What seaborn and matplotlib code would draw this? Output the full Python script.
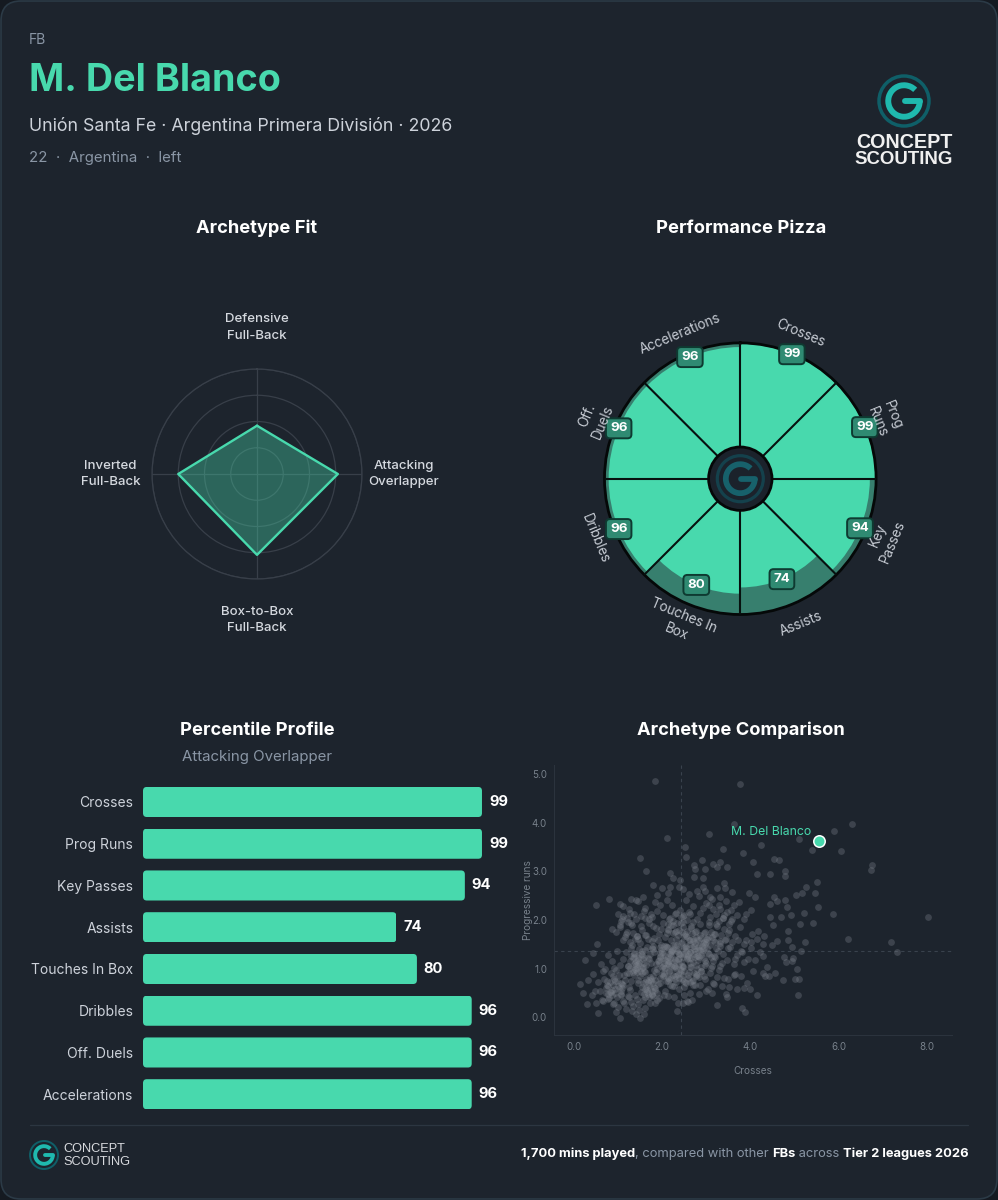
import numpy as np
import pandas as pd
import matplotlib
matplotlib.use("Agg")
import matplotlib.pyplot as plt
import seaborn as sns
from matplotlib.patches import Arc, Circle, FancyBboxPatch

# ---- data ----
metrics = ["Crosses", "Prog Runs", "Key Passes", "Assists", "Touches In Box", "Dribbles", "Off. Duels", "Accelerations"]
percentiles = [99, 99, 94, 74, 80, 96, 96, 96]
pizza_labels = ["Crosses", "Prog\nRuns", "Key\nPasses", "Assists", "Touches In\nBox", "Dribbles", "Off.\nDuels", "Accelerations"]

archetypes = ["Defensive\nFull-Back", "Attacking\nOverlapper", "Box-to-Box\nFull-Back", "Inverted\nFull-Back"]
archetype_fit = [46, 77, 77, 75]

player_x = [5.56]
player_y = [3.63]
median_x = 2.43
median_y = 1.36

peers_x = [
    1.84, 3.76, 3.63, 6.30, 5.90, 2.10, 3.06, 5.09, 4.23, 2.52,
    3.37, 5.39, 6.05, 3.84, 2.53, 1.50, 4.53, 4.65, 4.05, 6.76,
    6.73, 1.64, 4.14, 4.45, 4.79, 4.79, 5.51, 5.27, 5.47, 5.18,
    5.04, 3.96, 4.10, 4.53, 4.79, 5.53, 5.88, 5.22, 4.92, 8.03,
    5.41, 5.13, 6.21, 7.18, 7.32, 5.24, 5.15, 4.95, 4.85, 4.86,
    4.60, 4.50, 4.52, 4.69, 4.44, 4.82, 4.60, 4.45, 4.77, 4.96,
    4.94, 4.81, 5.05, 5.01, 5.09, 5.08, 4.73, 4.56, 4.38, 4.41,
    4.29, 4.33, 4.16, 4.00, 3.85, 3.70, 3.80, 3.88, 3.25, 2.33,
    1.59, 1.50, 1.04, 0.54, 0.95, 0.30, 0.20, 0.13, 0.31, 0.26,
    0.44, 0.53, 0.50, 0.79, 1.04, 2.90, 2.72, 3.14, 3.30, 3.46,
    3.24, 2.97, 2.74, 2.18, 2.25, 2.41, 2.72, 2.93, 1.78, 1.99,
    2.18, 2.37, 2.46, 2.92, 3.39, 3.24, 3.42, 2.78, 2.96, 1.88,
    1.56, 1.41, 1.84, 3.08, 3.31, 2.60, 2.84, 2.12, 1.30, 3.58,
    1.00, 1.12, 1.25, 1.45, 1.60, 1.75, 1.95, 2.10, 2.22, 2.40,
    2.55, 2.70, 2.85, 3.00, 3.12, 3.30, 3.45, 3.62, 3.75, 3.90,
    1.08, 1.20, 1.36, 1.52, 1.70, 1.88, 2.02, 2.18, 2.32, 2.48,
    2.62, 2.78, 2.92, 3.08, 3.22, 3.38, 3.55, 3.70, 3.85, 4.02,
    0.85, 0.95, 1.05, 1.18, 1.30, 1.42, 1.55, 1.68, 1.80, 1.92,
    2.02, 2.14, 2.25, 2.36, 2.46, 2.56, 2.66, 2.76, 2.86, 2.96,
    3.06, 3.18, 3.28, 3.40, 3.52, 3.64, 3.76, 3.90, 4.04, 4.18,
    1.10, 1.26, 1.38, 1.50, 1.62, 1.76, 1.90, 2.06, 2.20, 2.32,
    2.44, 2.54, 2.64, 2.74, 2.84, 2.94, 3.04, 3.16, 3.30, 3.44,
    3.58, 3.72, 3.86, 4.02, 4.15, 4.30, 4.28, 1.98, 2.10, 2.28,
    0.62, 0.78, 0.90, 0.98, 1.12, 1.22, 1.30, 1.38, 1.46, 1.56,
    1.62, 1.70, 1.78, 1.86, 1.94, 2.02, 2.10, 2.18, 2.26, 2.34,
    2.42, 2.50, 2.58, 2.66, 2.74, 2.82, 2.90, 2.98, 3.06, 3.14,
    3.22, 3.30, 3.38, 3.46, 3.54, 3.62, 3.70, 3.78, 3.86, 3.94,
    4.02, 4.10, 4.22, 4.28, 0.70, 0.86, 1.04, 1.18, 1.34, 1.42,
    1.52, 1.66, 1.74, 1.82, 1.92, 1.98, 2.06, 2.14, 2.22, 2.30,
    2.38, 2.46, 2.54, 2.62, 2.70, 2.78, 2.86, 2.94, 3.02, 3.10,
    1.28, 1.36, 1.40, 1.48, 1.58, 1.64, 1.72, 1.80, 1.88, 1.96,
    2.04, 2.12, 2.20, 2.28, 2.36, 2.44, 2.52, 2.60, 2.68, 2.76,
    2.84, 2.92, 3.00, 3.08, 3.18, 3.26, 3.36, 3.50, 3.66, 3.80,
    1.32, 1.44, 1.54, 1.68, 1.76, 1.90, 2.00, 2.16, 2.24, 2.40,
    2.48, 2.56, 2.64, 2.72, 2.80, 2.88, 2.96, 3.04, 3.12, 3.20,
    0.42, 0.55, 0.66, 0.76, 0.88, 0.96, 1.06, 1.14, 1.24, 1.34,
    1.44, 1.54, 1.64, 1.72, 1.82, 1.90, 2.00, 2.08, 2.16, 2.26,
    2.34, 2.42, 2.52, 2.60, 2.70, 2.78, 2.88, 2.98, 3.08, 3.18,
    3.28, 3.40, 3.52, 3.66, 3.78, 3.92, 4.06, 0.60, 0.74, 0.84,
    0.92, 1.02, 1.10, 1.20, 1.30, 1.40, 1.50, 1.60, 1.68, 1.78,
    1.86, 1.96, 2.04, 2.12, 2.22, 2.30, 2.40, 2.50, 2.58, 2.68,
    2.76, 2.86, 2.94, 3.04, 3.14, 3.24, 3.36, 3.48, 3.62, 0.48,
    0.68, 0.82, 0.94, 1.08, 1.16, 1.26, 1.36, 1.46, 1.58, 1.66,
    1.74, 1.84, 1.94, 2.06, 2.18, 2.28, 2.38, 2.48, 2.62, 2.74,
    0.40, 0.50, 0.64, 0.72, 0.80, 0.88, 0.98, 1.06, 1.14, 1.22,
    1.30, 1.38, 1.46, 1.56, 1.62, 1.70, 1.76, 1.84, 1.92, 2.04,
    2.14, 2.26, 2.36, 2.50, 2.58, 2.68, 2.84, 3.00, 3.12, 3.44,
    3.46, 0.76, 0.86, 1.00, 1.12, 1.24, 1.34, 1.42, 1.48, 1.62,
    1.72, 1.80, 1.88, 2.46, 2.56, 0.66, 0.90, 1.18, 1.32, 1.40,
]
peers_y = [
    4.87, 4.79, 3.98, 3.98, 3.84, 3.69, 3.77, 3.66, 3.55, 3.51,
    3.46, 3.44, 3.43, 3.39, 3.30, 3.28, 3.26, 3.24, 3.19, 3.13,
    3.02, 3.00, 2.95, 2.95, 3.00, 2.91, 2.78, 2.68, 2.56, 2.56,
    2.52, 2.55, 2.48, 2.47, 2.41, 2.26, 2.13, 2.14, 2.10, 2.06,
    1.93, 1.91, 1.61, 1.54, 1.35, 1.54, 1.36, 1.45, 1.77, 1.60,
    1.56, 1.49, 1.90, 2.07, 2.07, 2.27, 2.40, 2.33, 1.25, 1.23,
    1.15, 1.13, 0.99, 0.79, 0.78, 0.45, 0.77, 0.92, 1.04, 0.84,
    0.91, 0.84, 0.46, 0.59, 0.60, 0.59, 0.20, 0.10, 0.25, 0.12,
    0.07, -0.01, -0.01, 0.09, 0.10, 0.28, 0.49, 0.68, 0.77, 1.17,
    1.32, 1.50, 2.30, 2.43, 2.33, 3.24, 3.13, 3.16, 3.20, 3.09,
    3.09, 3.05, 3.05, 2.96, 2.86, 2.83, 2.88, 2.86, 2.72, 2.65,
    2.69, 2.69, 2.63, 2.69, 2.76, 2.65, 2.65, 2.59, 2.59, 2.52,
    2.48, 2.41, 2.38, 2.48, 2.48, 2.54, 2.50, 2.56, 2.44, 2.58,
    2.12, 2.28, 2.22, 2.40, 2.25, 2.12, 2.30, 2.42, 2.30, 2.20,
    2.42, 2.28, 2.15, 2.35, 2.44, 2.22, 2.40, 2.30, 2.38, 2.12,
    2.02, 2.05, 2.12, 2.08, 2.02, 2.18, 2.10, 2.04, 2.14, 2.08,
    2.12, 2.02, 2.24, 2.06, 2.12, 2.05, 2.20, 2.10, 2.02, 2.20,
    1.82, 1.75, 1.90, 1.72, 1.95, 1.68, 1.80, 1.62, 1.88, 1.72,
    1.95, 1.80, 1.90, 1.70, 1.96, 1.78, 1.88, 1.65, 1.92, 1.75,
    1.90, 1.72, 1.98, 1.82, 1.92, 1.68, 1.85, 1.60, 1.72, 1.78,
    1.60, 1.55, 1.62, 1.52, 1.70, 1.56, 1.60, 1.66, 1.58, 1.62,
    1.55, 1.68, 1.58, 1.52, 1.60, 1.55, 1.65, 1.58, 1.52, 1.62,
    1.55, 1.60, 1.50, 1.55, 1.62, 1.68, 1.50, 1.82, 1.74, 1.76,
    1.10, 1.28, 1.02, 1.36, 1.20, 1.05, 1.42, 1.12, 1.28, 1.04,
    1.38, 1.20, 1.46, 1.10, 1.32, 1.06, 1.44, 1.22, 1.02, 1.36,
    1.14, 1.42, 1.26, 1.04, 1.36, 1.18, 1.46, 1.08, 1.30, 1.16,
    1.42, 1.06, 1.30, 1.18, 1.44, 1.10, 1.28, 1.36, 1.14, 1.20,
    1.42, 1.18, 1.34, 1.26, 1.00, 1.15, 1.08, 1.34, 1.22, 1.02,
    1.30, 1.44, 1.12, 1.34, 1.18, 1.48, 1.26, 1.12, 1.38, 1.18,
    1.30, 1.06, 1.46, 1.34, 1.14, 1.26, 1.38, 1.22, 1.42, 1.02,
    1.02, 1.32, 1.16, 1.40, 1.24, 1.08, 1.30, 1.40, 1.00, 1.24,
    1.46, 1.10, 1.34, 1.48, 1.20, 1.06, 1.30, 1.22, 1.44, 1.08,
    1.24, 1.38, 1.12, 1.48, 1.26, 1.36, 1.12, 1.42, 1.20, 1.34,
    1.48, 1.10, 1.36, 1.22, 1.42, 1.16, 1.34, 1.16, 1.48, 1.30,
    1.04, 1.22, 1.12, 1.30, 1.44, 1.04, 1.16, 1.32, 1.06, 1.24,
    0.90, 0.72, 0.96, 0.64, 0.84, 0.98, 0.70, 0.88, 0.62, 0.94,
    0.76, 0.92, 0.60, 0.82, 0.98, 0.68, 0.90, 0.74, 0.96, 0.64,
    0.86, 0.98, 0.72, 0.94, 0.66, 0.88, 0.96, 0.78, 0.92, 0.68,
    0.98, 0.80, 0.62, 0.90, 0.84, 0.70, 0.96, 0.55, 0.66, 0.92,
    0.58, 0.86, 0.66, 0.92, 0.74, 0.98, 0.84, 0.94, 0.72, 0.84,
    0.94, 0.70, 0.88, 0.80, 0.64, 0.78, 0.92, 0.62, 0.80, 0.74,
    0.90, 0.66, 0.84, 0.58, 0.70, 0.82, 0.64, 0.78, 0.86, 0.54,
    0.78, 0.52, 0.74, 0.60, 0.76, 0.56, 0.86, 0.70, 0.96, 0.52,
    0.78, 0.60, 0.80, 0.54, 0.66, 0.84, 0.58, 0.74, 0.50, 0.66,
    0.45, 0.30, 0.36, 0.50, 0.40, 0.28, 0.42, 0.48, 0.30, 0.44,
    0.32, 0.46, 0.28, 0.36, 0.20, 0.42, 0.48, 0.30, 0.40, 0.46,
    0.44, 0.42, 0.30, 0.46, 0.32, 0.36, 0.48, 0.55, 0.50, 0.48,
    0.42, 0.38, 0.46, 0.22, 0.34, 0.42, 0.24, 0.38, 0.16, 0.42,
    0.30, 0.44, 0.36, 0.30, 0.34, 0.34, 0.30, 0.18, 0.12, 0.06,
]
# the packed middle of the cloud
dense_x = [
    1.22, 1.27, 1.33, 1.37, 1.41, 1.46, 1.50, 1.55, 1.59, 1.25,
    1.30, 1.35, 1.39, 1.44, 1.48, 1.53, 1.57, 1.35, 1.42, 1.50,
    1.92, 1.97, 2.01, 2.05, 2.09, 2.13, 2.17, 2.21, 2.25, 2.29,
    2.33, 2.37, 1.94, 1.99, 2.03, 2.07, 2.11, 2.15, 2.19, 2.23,
    2.27, 2.31, 2.35, 2.39, 1.96, 2.04, 2.12, 2.20, 2.28, 2.36,
    2.42, 2.46, 2.50, 2.53, 2.57, 2.60, 2.64, 2.67, 2.71, 2.74,
    2.78, 2.81, 2.85, 2.88, 2.92, 2.95, 2.99, 2.44, 2.48, 2.52,
    2.56, 2.59, 2.63, 2.66, 2.70, 2.73, 2.77, 2.80, 2.84, 2.87,
    2.91, 2.94, 2.98, 2.55, 2.69, 2.12, 2.16, 2.21, 2.25, 2.30,
    2.34, 2.39, 2.43, 2.47, 2.52, 2.56, 2.61, 2.65, 2.70, 2.74,
    2.14, 2.24, 2.32, 2.42, 2.50, 1.52, 1.56, 1.60, 1.63, 1.67,
    1.70, 1.74, 1.77, 1.81, 1.84, 1.88, 1.54, 1.58, 1.62, 1.66,
    1.69, 1.73, 1.76, 1.80, 1.83, 0.72, 0.77, 0.81, 0.85, 0.89,
    0.94, 0.98, 1.02, 1.06, 1.09, 0.75, 0.83, 0.91, 0.99, 1.07,
    3.02, 3.07, 3.11, 3.16, 3.20, 3.25, 3.29, 3.34, 3.38, 3.43,
    3.47, 3.52, 3.56, 3.05, 3.13, 3.22, 3.31, 3.40, 3.49, 3.58,
    1.04, 1.10, 1.16, 1.22, 1.28, 1.34, 1.40, 1.46, 1.52, 1.58,
    1.64, 1.70, 1.76, 1.82, 1.87, 1.07, 1.19, 1.31, 1.43, 1.61,
    2.02, 2.07, 2.12, 2.16, 2.21, 2.26, 2.31, 2.35, 2.40, 2.45,
    2.50, 2.54, 2.59, 2.64, 2.69, 2.73, 2.78, 2.83, 2.87, 2.05,
    2.15, 2.25, 2.38, 2.48, 2.62, 2.76, 3.00, 3.10, 3.20, 3.30,
]
dense_y = [
    1.05, 1.16, 0.98, 1.24, 1.08, 1.18, 0.96, 1.28, 1.12, 0.92,
    1.26, 1.10, 1.00, 1.22, 1.14, 1.02, 1.20, 1.30, 0.94, 1.06,
    1.12, 1.38, 1.22, 1.02, 1.46, 1.16, 1.30, 1.06, 1.40, 1.20,
    1.48, 1.10, 1.26, 1.04, 1.34, 1.18, 1.44, 1.08, 1.28, 1.36,
    1.14, 1.02, 1.32, 1.22, 1.44, 1.12, 1.24, 1.36, 1.06, 1.40,
    1.52, 1.30, 1.68, 1.42, 1.20, 1.60, 1.34, 1.74, 1.46, 1.24,
    1.58, 1.38, 1.70, 1.28, 1.52, 1.42, 1.62, 1.76, 1.24, 1.44,
    1.66, 1.30, 1.50, 1.22, 1.62, 1.40, 1.78, 1.26, 1.46, 1.64,
    1.34, 1.74, 1.50, 1.36, 1.56, 1.82, 2.02, 1.90, 1.74, 2.12,
    1.94, 1.80, 2.06, 1.86, 1.72, 2.00, 2.16, 1.84, 1.96, 1.76,
    1.92, 1.98, 1.78, 1.94, 2.10, 0.52, 0.70, 0.58, 0.78, 0.48,
    0.66, 0.74, 0.54, 0.62, 0.76, 0.50, 0.62, 0.48, 0.72, 0.56,
    0.76, 0.60, 0.46, 0.70, 0.56, 0.60, 0.48, 0.72, 0.56, 0.66,
    0.50, 0.74, 0.60, 0.46, 0.68, 0.74, 0.52, 0.78, 0.64, 0.54,
    1.62, 1.96, 1.76, 2.22, 1.54, 1.88, 2.32, 1.70, 2.04, 1.58,
    2.16, 1.80, 1.98, 2.30, 1.66, 1.92, 1.56, 2.10, 1.74, 2.02,
    1.86, 2.08, 1.66, 1.96, 2.14, 1.74, 2.02, 1.62, 1.88, 2.18,
    1.70, 1.94, 2.06, 1.64, 1.84, 1.98, 1.76, 1.90, 1.68, 2.04,
    0.84, 1.02, 0.74, 0.94, 0.80, 1.06, 0.72, 0.90, 1.00, 0.78,
    0.96, 0.70, 0.86, 1.04, 0.76, 0.92, 1.00, 0.82, 0.96, 0.92,
    0.78, 0.88, 0.80, 0.86, 0.72, 0.84, 1.54, 1.24, 1.72, 1.46,
]

# ---- colours ----
BG = "#1d242d"
EDGE = "#2b3a46"
GREEN = "#48d9ad"
DARK_GREEN = "#377f6e"
TEXT = "#cdd2da"
MUTED = "#8a96a5"
TICK = "#78818b"
FAINT = "#2b333d"
W, H = 998, 1200

sns.set_theme(style="dark", rc={"axes.facecolor": "none", "figure.facecolor": "#151a21"})
plt.rcParams["font.family"] = ["Inter", "DejaVu Sans"]

fig = plt.figure(figsize=(W / 100, H / 100), dpi=100)


def px_axes(left, top, right, bottom, **kw):
    return fig.add_axes([left / W, 1 - bottom / H, (right - left) / W, (bottom - top) / H], **kw)


def draw_logo(ax, cx, cy, r, ring, mark, ring_lw=0.1, mark_lw=0.17):
    ax.add_patch(Circle((cx, cy), r, fill=False, ec=ring, lw=r * ring_lw))
    ax.add_patch(Arc((cx, cy), r * 1.26, r * 1.26, theta1=0, theta2=315, color=mark, lw=r * mark_lw))
    ax.plot([cx + r * 0.63, cx + r * 0.05], [cy, cy], color=mark, lw=r * mark_lw, solid_capstyle="round")


# ---- background layer in pixel coordinates ----
back = px_axes(0, 0, W, H, zorder=0)
back.set_xlim(0, W)
back.set_ylim(H, 0)
back.axis("off")
back.add_patch(FancyBboxPatch((1, 1), W - 2, H - 2, boxstyle="round,pad=0,rounding_size=20", fc=BG, ec=EDGE, lw=1.2))

back.text(29, 40, "FB", color=MUTED, fontsize=10, va="center")
back.text(29, 81, "M. Del Blanco", color=GREEN, fontsize=27.2, fontweight="bold", va="center")
back.text(29, 126, "Unión Santa Fe · Argentina Primera División · 2026", color=TEXT, fontsize=12.8, va="center")
back.text(29, 158, "22  ·  Argentina  ·  left", color=MUTED, fontsize=10.8, va="center")

for label, x, y in [("Archetype Fit", 257, 233), ("Performance Pizza", 741, 233),
                    ("Percentile Profile", 257, 735), ("Archetype Comparison", 741, 735)]:
    back.text(x, y, label, color="white", fontsize=13.2, fontweight="bold", ha="center", va="baseline")
back.text(257, 757, "Attacking Overlapper", color=MUTED, fontsize=10.8, ha="center", va="center")

draw_logo(back, 904, 101, 25, "#0f5f68", "#1fb9ae")
for word, y, size in [("CONCEPT", 142, 14.2), ("SCOUTING", 160, 13.4)]:
    back.text(904, y, word, color="#f0f0f0", fontsize=size, fontweight="bold", family="Liberation Sans", ha="center", va="center")

back.plot([30, 968], [1124.5, 1124.5], color="#2c3641", lw=0.9)
draw_logo(back, 44, 1155, 14, "#0f5f68", "#1fb9ae", ring_lw=0.1, mark_lw=0.2)
for word, y in [("CONCEPT", 1149), ("SCOUTING", 1162)]:
    back.text(63, y, word, color="#d8dade", fontsize=9.2, family="Liberation Sans", va="center")

footer = [("1,700 mins played", "bold", "white"), (", compared with other ", "normal", MUTED), ("FBs", "bold", "white"),
          (" across ", "normal", MUTED), ("Tier 2 leagues 2026", "bold", "white")]
renderer = fig.canvas.get_renderer()
FOOT_SIZE = 9.3


def text_width(piece, weight):
    # bars at both ends so edge spaces get counted
    probe = back.text(0, 0, "|" + piece + "|", fontsize=FOOT_SIZE, fontweight=weight)
    empty = back.text(0, 0, "||", fontsize=FOOT_SIZE, fontweight=weight)
    width = probe.get_window_extent(renderer).width - empty.get_window_extent(renderer).width
    probe.remove()
    empty.remove()
    return width


x_right = 969
for piece, weight, colour in reversed(footer):
    x_right -= text_width(piece, weight)
    back.text(x_right, 1157, piece, color=colour, fontsize=FOOT_SIZE, fontweight=weight, ha="left", va="baseline")

# ---- radar ----
radar = px_axes(257 - 105, 474 - 105, 257 + 105, 474 + 105, projection="polar")
radar.set_theta_zero_location("N")
radar.set_theta_direction(-1)
radar_theta = np.deg2rad([0, 90, 180, 270, 360])
radar_df = pd.DataFrame({"theta": radar_theta, "fit": archetype_fit + archetype_fit[:1]})
radar.fill(radar_df["theta"], radar_df["fit"], color=GREEN, alpha=0.36, lw=0, zorder=2)
sns.lineplot(data=radar_df, x="theta", y="fit", sort=False, estimator=None, color=GREEN, lw=1.7, ax=radar, zorder=3)
radar.set_ylim(0, 100)
radar.set_yticks([25, 50, 75, 100])
radar.set_xticks(radar_theta[:4])
radar.set_xticklabels([])
radar.set_yticklabels([])
radar.set_xlabel("")
radar.set_ylabel("")
radar.grid(True, color="#383f49", lw=0.9)
radar.spines["polar"].set_color("#383f49")
radar.spines["polar"].set_linewidth(0.9)
for theta, name in zip(radar_theta[:4], archetypes):
    radar.text(theta, 139.5, name, color="#d5d9df", fontsize=9.5, fontweight="medium", ha="center", va="center", clip_on=False, linespacing=1.45)

# ---- pizza ----
pizza_r = 135.8
hole = 31.7
unit = (pizza_r - hole) / 100
pizza = px_axes(740.3 - pizza_r, 478.7 - pizza_r, 740.3 + pizza_r, 478.7 + pizza_r, projection="polar")
pizza.set_theta_zero_location("N")
pizza.set_theta_direction(-1)
pizza.set_rorigin(-hole / unit)
pizza.set_ylim(0, 100)
slice_width = 2 * np.pi / len(metrics)
slice_theta = (np.arange(len(metrics)) + 0.5) * slice_width
pizza.bar(slice_theta, [100] * len(metrics), width=slice_width, color=DARK_GREEN, lw=0)
pizza.bar(slice_theta, percentiles, width=slice_width, color=GREEN, lw=0)
for edge in slice_theta - slice_width / 2:
    pizza.plot([edge, edge], [0, 100], color="#07110f", lw=1.5, zorder=3)
pizza.set_xticks([])
pizza.set_yticks([])
pizza.grid(False)
pizza.spines["polar"].set_color("#050808")
pizza.spines["polar"].set_linewidth(2)
pizza.spines["inner"].set_visible(False)

for theta, value, label in zip(slice_theta, percentiles, pizza_labels):
    deg = np.rad2deg(theta)
    rot = -deg if deg < 90 or deg > 270 else 180 - deg
    pizza.text(theta, value, str(value), color="white", fontsize=9.6, fontweight="bold", ha="center", va="center", zorder=6,
               clip_on=False, bbox=dict(boxstyle="round,pad=0.3,rounding_size=0.3", fc="#2f8a72", ec="#0e3a31", lw=1.4))
    pizza.text(theta, (157 - hole) / unit, label, color="#c6cbd3", fontsize=9.7, rotation=rot, rotation_mode="anchor",
               ha="center", va="center", clip_on=False, zorder=7, linespacing=1.25)

front = px_axes(0, 0, W, H, zorder=5)
front.set_xlim(0, W)
front.set_ylim(H, 0)
front.axis("off")
front.add_patch(Circle((740.3, 478.7), hole, fc="#1b222b", ec="#050808", lw=2))
draw_logo(front, 740.3, 478.7, 23, "#14414c", "#17616b", ring_lw=0.1, mark_lw=0.18)

# ---- percentile bars ----
bars = px_axes(143, 781.1, 500, 1115.1)
bar_df = pd.DataFrame({"metric": metrics, "percentile": percentiles})
sns.barplot(data=bar_df, y="metric", x="percentile", orient="h", color=GREEN, saturation=1, width=0.72, linewidth=0, ax=bars)
bars.set_xlim(0, 357 / 3.424)
bars.set_ylim(7.5, -0.5)
bars.set_xlabel("")
bars.set_ylabel("")
bars.set_xticks([])
bars.tick_params(axis="y", length=0, pad=7, labelcolor=TEXT, labelsize=10)
sns.despine(ax=bars, left=True, bottom=True)
for bar in bars.patches:
    clip = FancyBboxPatch((bar.get_x(), bar.get_y()), bar.get_width(), bar.get_height(),
                          boxstyle="round,pad=0,rounding_size=1.1", mutation_aspect=0.085, transform=bars.transData)
    bar.set_clip_path(clip)
bars.bar_label(bars.containers[0], padding=5, color="white", fontsize=10.6, fontweight="bold")

# ---- scatter ----
scat = px_axes(554, 765, 952, 1035)
peer_df = pd.DataFrame({"crosses": peers_x + dense_x, "prog_runs": peers_y + dense_y})
sns.scatterplot(data=peer_df, x="crosses", y="prog_runs", color="#7b818b", alpha=0.34, s=24, linewidth=0, ax=scat)
scat.axvline(median_x, color="#39424d", lw=0.8, ls=(0, (3, 3)), zorder=0)
scat.axhline(median_y, color="#39424d", lw=0.8, ls=(0, (3, 3)), zorder=0)
sns.scatterplot(x=player_x, y=player_y, color=GREEN, s=68, edgecolor="white", linewidth=1.1, ax=scat, zorder=5)
scat.set_xlim(-0.454, 8.57)
scat.set_ylim(-0.364, 5.19)
scat.set_xticks([0, 2, 4, 6, 8])
scat.set_yticks([0, 1, 2, 3, 4, 5])
scat.set_xticklabels(["0.0", "2.0", "4.0", "6.0", "8.0"])
scat.set_yticklabels(["0.0", "1.0", "2.0", "3.0", "4.0", "5.0"])
scat.tick_params(length=0, labelsize=7, labelcolor=TICK, pad=5)
scat.grid(False)
scat.set_xlabel("Crosses", color=TICK, fontsize=7.2, labelpad=10)
scat.set_ylabel("Progressive runs", color=TICK, fontsize=7.2, labelpad=-1)
sns.despine(ax=scat)
for side in ["left", "bottom"]:
    scat.spines[side].set_color(FAINT)
    scat.spines[side].set_linewidth(0.8)
scat.annotate("M. Del Blanco", (player_x[0], player_y[0]), xytext=(-6, 2), textcoords="offset points",
              color=GREEN, fontsize=8.8, ha="right", va="bottom", zorder=6)

fig.savefig("out.png", dpi=100, facecolor=fig.get_facecolor())
